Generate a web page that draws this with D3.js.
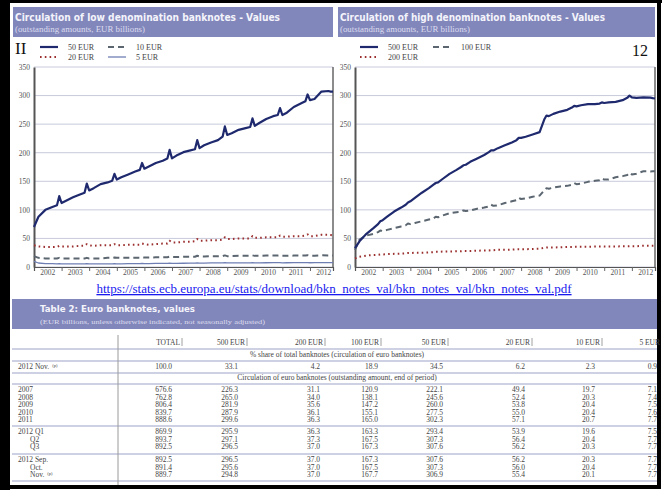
<!DOCTYPE html>
<html>
<head>
<meta charset="utf-8">
<script src="https://cdn.jsdelivr.net/npm/d3@7"></script>
<style>
body { margin: 0; background: #fff; }
svg { display: block; }
</style>
</head>
<body>
<svg id="page" width="669" height="490"></svg>
<script>
// sampled months, same for every series (Jan, Mar, Jun, Sep, Nov, Dec)
var months = [
  "2002-01","2002-03","2002-06","2002-09","2002-11","2002-12",
  "2003-01","2003-03","2003-06","2003-09","2003-11","2003-12",
  "2004-01","2004-03","2004-06","2004-09","2004-11","2004-12",
  "2005-01","2005-03","2005-06","2005-09","2005-11","2005-12",
  "2006-01","2006-03","2006-06","2006-09","2006-11","2006-12",
  "2007-01","2007-03","2007-06","2007-09","2007-11","2007-12",
  "2008-01","2008-03","2008-06","2008-09","2008-11","2008-12",
  "2009-01","2009-03","2009-06","2009-09","2009-11","2009-12",
  "2010-01","2010-03","2010-06","2010-09","2010-11","2010-12",
  "2011-01","2011-03","2011-06","2011-09","2011-11","2011-12",
  "2012-01","2012-03","2012-06","2012-09","2012-10","2012-11"
];

// low denominations (EUR billions)
var eur50 = [
  70, 88, 100, 105, 108, 124,
  112, 116, 122, 127, 130, 146,
  134, 138, 145, 148, 151, 163,
  153, 157, 162, 167, 170, 182,
  172, 176, 182, 186, 190, 205,
  190, 195, 201, 204, 206, 222,
  208, 213, 218, 222, 228, 246,
  231, 234, 240, 243, 245, 260,
  247, 252, 259, 264, 266, 278,
  266, 270, 280, 286, 290, 302,
  292, 294, 307, 308, 307, 307
];
var eur20 = [
  38, 36, 35, 35, 35, 37,
  36, 36, 36, 37, 37, 40,
  38, 37, 38, 38, 38, 40,
  38, 38, 39, 39, 39, 41,
  40, 39, 40, 41, 41, 46,
  43, 43, 44, 44, 45, 49,
  46, 46, 47, 47, 48, 52,
  49, 49, 50, 50, 50, 54,
  51, 51, 52, 52, 52, 55,
  53, 53, 54, 54, 55, 57,
  54, 54, 56.4, 56.2, 56, 55.4
];
var eur10 = [
  19, 16, 15, 15, 15, 16,
  15, 15, 15, 15, 15, 16,
  15, 15, 15, 16, 16, 16.5,
  16, 16, 16, 16, 16, 17,
  16.5, 16.5, 17, 17, 17, 18,
  17.5, 17.5, 18, 18, 18, 19.7,
  18.5, 18.5, 19, 19, 19, 20.3,
  19, 19, 19.5, 19.5, 19.5, 20.4,
  19.5, 19.5, 20, 20, 20, 20.4,
  19.5, 19.5, 20, 20, 20, 20.7,
  19.5, 19.6, 20.4, 20.3, 20.4, 20.1
];
var eur5 = [
  10, 7, 6, 6, 5.5, 6,
  5.5, 5.5, 5.5, 5.5, 5.5, 6,
  5.5, 5.5, 5.5, 5.5, 5.5, 6,
  5.5, 5.5, 6, 6, 6, 6.2,
  6, 6, 6.2, 6.3, 6.3, 6.6,
  6.4, 6.4, 6.6, 6.7, 6.8, 7.1,
  6.9, 6.9, 7.1, 7.2, 7.2, 7.4,
  7.1, 7.1, 7.3, 7.3, 7.3, 7.5,
  7.2, 7.3, 7.4, 7.5, 7.5, 7.6,
  7.3, 7.4, 7.6, 7.6, 7.6, 7.7,
  7.4, 7.5, 7.7, 7.7, 7.7, 7.7
];

// high denominations (EUR billions)
var eur500 = [
  33, 45, 58, 68, 75, 80,
  82, 88, 97, 104, 109, 113,
  115, 121, 130, 138, 144, 147,
  148, 154, 163, 170, 175, 178,
  179, 184, 190, 196, 201, 204,
  204, 208, 213, 218, 222, 226,
  226, 228, 232, 236, 258, 265,
  264, 268, 272, 275, 279, 282,
  281, 283, 285, 285, 286, 288,
  287, 288, 289, 292, 296, 300,
  297, 296, 297, 296.5, 295.6, 294.8
];
var eur100 = [
  30, 48, 55, 58, 61, 64,
  63, 65, 68, 71, 73, 76,
  75, 77, 80, 83, 85, 88,
  87, 90, 94, 96, 97, 99,
  98, 99, 102, 104, 106, 109,
  107, 108, 112, 115, 117, 121,
  119, 120, 123, 125, 134, 138,
  137, 139, 141, 142, 144, 147,
  145, 146, 149, 151, 152, 155,
  153, 153, 157, 159, 161, 165,
  162, 163.3, 167.5, 167.3, 167.5, 167.7
];
var eur200 = [
  15, 18, 20, 21, 21.5, 22,
  22, 22.5, 23, 23.5, 24, 24.5,
  24.5, 25, 25, 25.5, 26, 26.5,
  26.5, 27, 27, 27.5, 27.5, 28,
  28, 28, 28.5, 29, 29, 29.5,
  29.5, 30, 30, 30.5, 31, 31.1,
  31, 31.2, 31.5, 32, 33.5, 34,
  34, 34.2, 34.5, 35, 35.2, 35.6,
  35.3, 35.5, 35.5, 35.8, 36, 36.1,
  35.8, 36, 36, 36.2, 36.2, 36.3,
  36.2, 36.3, 37.3, 37, 37, 37
];

var yearLabels = ["2002","2003","2004","2005","2006","2007","2008","2009","2010","2011","2012"];
var yTicks = [0, 50, 100, 150, 200, 250, 300, 350];

// table
var tableCols = ["TOTAL","500 EUR","200 EUR","100 EUR","50 EUR","20 EUR","10 EUR","5 EUR"];
var shareLabel = "2012 Nov.";
var shareVals = ["100.0","33.1","4.2","18.9","34.5","6.2","2.3","0.9"];
var yearRows = ["2007","2008","2009","2010","2011"];
var yearVals = [
  ["676.6","226.3","31.1","120.9","222.1","49.4","19.7","7.1"],
  ["762.8","265.0","34.0","138.1","245.6","52.4","20.3","7.4"],
  ["806.4","281.9","35.6","147.2","260.0","53.8","20.4","7.5"],
  ["839.7","287.9","36.1","155.1","277.5","55.0","20.4","7.6"],
  ["888.6","299.6","36.3","165.0","302.3","57.1","20.7","7.7"]
];
var quarterRows = ["2012 Q1","Q2","Q3"];
var quarterVals = [
  ["869.9","295.9","36.3","163.3","293.4","53.9","19.6","7.5"],
  ["893.7","297.1","37.3","167.5","307.3","56.4","20.4","7.7"],
  ["892.5","296.5","37.0","167.3","307.6","56.2","20.3","7.7"]
];
var monthRows = ["2012 Sep.","Oct.","Nov."];
var monthVals = [
  ["892.5","296.5","37.0","167.3","307.6","56.2","20.3","7.7"],
  ["891.4","295.6","37.0","167.5","307.3","56.0","20.4","7.7"],
  ["889.7","294.8","37.0","167.7","306.9","55.4","20.1","7.7"]
];

var parseMonth = d3.timeParse("%Y-%m");
var svg = d3.select("#page");

var navy = "#1f2a6e", red = "#9b2f2f", grey = "#5b6670", light = "#6f7fb4";
var band = "#8287bb";
var serif = "'Liberation Serif', 'DejaVu Serif', serif";
var sans = "'DejaVu Sans', sans-serif";

//outer frame of the scan
svg.append("rect").attr("x", 0).attr("y", 0).attr("width", 10).attr("height", 490).attr("fill", "#000");
svg.append("rect").attr("x", 0).attr("y", 0).attr("width", 662).attr("height", 3).attr("fill", "#000");
svg.append("rect").attr("x", 657).attr("y", 0).attr("width", 4).attr("height", 489).attr("fill", "#000");
svg.append("rect").attr("x", 0).attr("y", 485).attr("width", 661).attr("height", 4).attr("fill", "#000");

function header(x, w, title, titleLen, sub, subLen) {
  svg.append("rect").attr("x", x).attr("y", 7).attr("width", w).attr("height", 30).attr("fill", band);
  svg.append("text").attr("x", x + 2).attr("y", 21)
    .attr("font-family", sans).attr("font-weight", "bold").attr("font-size", 10)
    .attr("fill", "#f4f4fb").attr("textLength", titleLen).attr("lengthAdjust", "spacingAndGlyphs")
    .text(title);
  svg.append("text").attr("x", x + 2).attr("y", 32)
    .attr("font-family", serif).attr("font-size", 7.5)
    .attr("fill", "#dcdcef").attr("textLength", subLen).attr("lengthAdjust", "spacingAndGlyphs")
    .text(sub);
}

function legendItem(x, y, style, label) {
  svg.append("line").attr("x1", x).attr("x2", x + 18).attr("y1", y).attr("y2", y)
    .attr("stroke", style.color).attr("stroke-width", style.width)
    .attr("stroke-dasharray", style.dash || null);
  svg.append("text").attr("x", x + 28).attr("y", y + 3)
    .attr("font-family", serif).attr("font-size", 8).attr("fill", "#444")
    .text(label);
}

var s50 = { color: navy, width: 2.2 };
var s20 = { color: red, width: 2, dash: "1.6,3.2" };
var s10 = { color: grey, width: 2, dash: "6,4" };
var s5 = { color: light, width: 1.3 };

function lineChart(left, right, series) {
  var x = d3.scaleTime()
    .domain([parseMonth("2002-01"), parseMonth("2012-11")])
    .range([left, right]);
  var y = d3.scaleLinear().domain([0, 350]).range([267, 67]);

  var g = svg.append("g");

  // gridlines
  g.selectAll("line.grid").data(yTicks).enter().append("line")
    .attr("class", "grid")
    .attr("x1", left).attr("x2", right)
    .attr("y1", d => y(d)).attr("y2", d => y(d))
    .attr("stroke", "#c8cadb").attr("stroke-width", 1);

  // y axis
  var yAxis = g.append("g").attr("transform", `translate(${left},0)`)
    .call(d3.axisLeft(y).tickValues(yTicks).tickSize(0).tickPadding(4));
  yAxis.select(".domain").attr("stroke", "#555").attr("stroke-width", 2);
  yAxis.selectAll("text").attr("font-family", serif).attr("font-size", 7.5).attr("fill", "#555");

  // x axis: ticks at year boundaries, labels mid-year
  var yearStarts = yearLabels.slice(1).map(d => parseMonth(d + "-01"));
  var xAxis = g.append("g").attr("transform", "translate(0,267)")
    .call(d3.axisBottom(x).tickValues(yearStarts).tickSize(4).tickFormat(""));
  xAxis.select(".domain").attr("stroke", "#555").attr("stroke-width", 1.2);
  xAxis.selectAll(".tick line").attr("stroke", "#666");
  g.selectAll("text.year").data(yearLabels).enter().append("text")
    .attr("class", "year")
    .attr("x", d => x(parseMonth(d + "-07")))
    .attr("y", 275)
    .attr("text-anchor", "middle")
    .attr("font-family", serif).attr("font-size", 7.5).attr("fill", "#555")
    .text(d => d);

  // right frame
  g.append("line").attr("x1", right).attr("x2", right).attr("y1", 67).attr("y2", 267)
    .attr("stroke", "#666").attr("stroke-width", 1.5);

  var line = d3.line()
    .x((d, i) => x(parseMonth(months[i])))
    .y(d => y(d));

  series.forEach(function (s) {
    g.append("path").datum(s.values)
      .attr("d", line)
      .attr("fill", "none")
      .attr("stroke", s.style.color)
      .attr("stroke-width", s.style.width)
      .attr("stroke-dasharray", s.style.dash || null)
      .attr("stroke-linejoin", "round");
  });
}

// left panel
header(13, 320, "Circulation of low denomination banknotes - Values", 265,
  "(outstanding amounts, EUR billions)", 130);
svg.append("text").attr("x", 15).attr("y", 54).attr("font-family", serif)
  .attr("font-size", 17).attr("fill", "#111").text("II");
legendItem(40, 47, s50, "50 EUR");
legendItem(108, 47, s10, "10 EUR");
legendItem(40, 57, s20, "20 EUR");
legendItem(108, 57, s5, "5 EUR");
lineChart(34, 333, [
  { values: eur5, style: s5 },
  { values: eur10, style: s10 },
  { values: eur20, style: s20 },
  { values: eur50, style: s50 }
]);

// right panel
header(338, 317, "Circulation of high denomination banknotes - Values", 265,
  "(outstanding amounts, EUR billions)", 130);
svg.append("text").attr("x", 632).attr("y", 56).attr("font-family", serif)
  .attr("font-size", 16).attr("fill", "#111").text("12");
legendItem(360, 47, s50, "500 EUR");
legendItem(433, 47, s10, "100 EUR");
legendItem(360, 57, s20, "200 EUR");
lineChart(355, 655, [
  { values: eur200, style: s20 },
  { values: eur100, style: s10 },
  { values: eur500, style: s50 }
]);

// source link
svg.append("text").attr("x", 334).attr("y", 293).attr("text-anchor", "middle")
  .attr("font-family", serif).attr("font-size", 13).attr("fill", "#1a1aee")
  .attr("text-decoration", "underline")
  .text("https://stats.ecb.europa.eu/stats/download/bkn_notes_val/bkn_notes_val/bkn_notes_val.pdf");

// table
svg.append("rect").attr("x", 12).attr("y", 299).attr("width", 645).attr("height", 30).attr("fill", band);
svg.append("text").attr("x", 40).attr("y", 312)
  .attr("font-family", sans).attr("font-weight", "bold").attr("font-size", 9.5)
  .attr("fill", "#f4f4fb").attr("textLength", 155).attr("lengthAdjust", "spacingAndGlyphs")
  .text("Table 2: Euro banknotes, values");
svg.append("text").attr("x", 40).attr("y", 324)
  .attr("font-family", serif).attr("font-size", 7)
  .attr("fill", "#dcdcef").attr("textLength", 225).attr("lengthAdjust", "spacingAndGlyphs")
  .text("(EUR billions, unless otherwise indicated, not seasonally adjusted)");

var headRight = [180, 245, 323, 379, 446, 530, 600, 660];
var valRight = [172, 238, 320, 378, 443, 525, 595, 657];
var tfont = 7.5, tcol = "#444", rule = "#9ea3c9";
var rowStep = 7.6;

var tbl = svg.append("g").attr("font-family", serif).attr("font-size", tfont).attr("fill", tcol);

tbl.selectAll("text.head").data(tableCols).enter().append("text")
  .attr("x", (d, i) => headRight[i]).attr("y", 345).attr("text-anchor", "end").text(d => d);
tbl.selectAll("line.bar").data(tableCols.slice(0, 7)).enter().append("line")
  .attr("x1", (d, i) => headRight[i] + 2).attr("x2", (d, i) => headRight[i] + 2)
  .attr("y1", 338).attr("y2", 346).attr("stroke", "#888").attr("stroke-width", 0.8);

function rule1(y) {
  tbl.append("line").attr("x1", 12).attr("x2", 657).attr("y1", y).attr("y2", y)
    .attr("stroke", rule).attr("stroke-width", 1.2);
}
function sectionNote(y, txt) {
  tbl.append("text").attr("x", 337).attr("y", y).attr("text-anchor", "middle").text(txt);
}
function dataRow(y, label, indent, vals, mark) {
  var t = tbl.append("text").attr("x", 18 + indent).attr("y", y).text(label);
  if (mark) t.append("tspan").attr("dx", 3).attr("dy", -2).attr("font-size", 4.5).text("(p)");
  tbl.selectAll(null).data(vals).enter().append("text")
    .attr("x", (d, i) => valRight[i]).attr("y", y).attr("text-anchor", "end").text(d => d);
}

rule1(349);
sectionNote(357, "% share of total banknotes (circulation of euro banknotes)");
rule1(361);
dataRow(369, shareLabel, 0, shareVals, true);
rule1(373);
sectionNote(380, "Circulation of euro banknotes (outstanding amount, end of period)");
rule1(384);
yearRows.forEach((r, i) => dataRow(392 + i * rowStep, r, 0, yearVals[i], false));
rule1(426);
quarterRows.forEach((r, i) => dataRow(434 + i * rowStep, r, i ? 12 : 0, quarterVals[i], false));
rule1(454);
monthRows.forEach((r, i) => dataRow(462 + i * rowStep, r, i ? 12 : 0, monthVals[i], i == 2));
rule1(481);

// label column divider
tbl.append("line").attr("x1", 118).attr("x2", 118).attr("y1", 335).attr("y2", 485)
  .attr("stroke", "#9a9a9a").attr("stroke-width", 1);
</script>
</body>
</html>
